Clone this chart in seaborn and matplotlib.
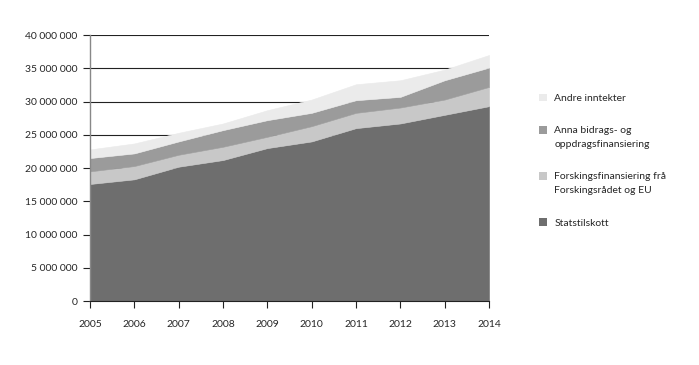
import matplotlib
matplotlib.use("Agg")
import matplotlib.pyplot as plt
import matplotlib.patches as mpatches
from matplotlib.legend_handler import HandlerPatch
import seaborn as sns
import numpy as np
import pandas as pd
from matplotlib.ticker import FuncFormatter

years = [2005, 2006, 2007, 2008, 2009, 2010, 2011, 2012, 2013, 2014]
statstilskott = [17.6, 18.3, 20.2, 21.2, 23.0, 24.0, 26.0, 26.7, 28.0, 29.3]
forsking_cum = [19.5, 20.3, 22.0, 23.2, 24.7, 26.3, 28.3, 29.1, 30.3, 32.2]
anna_cum = [21.5, 22.2, 24.0, 25.7, 27.2, 28.3, 30.2, 30.7, 33.2, 35.1]
andre_cum = [22.8, 23.7, 25.3, 26.7, 28.7, 30.3, 32.6, 33.2, 34.8, 37.0]

labels = ["Statstilskott",
          "Forskingsfinansiering frå\nForskingsrådet og EU",
          "Anna bidrags- og\noppdragsfinansiering",
          "Andre inntekter"]
colors = ["#6e6e6e", "#c8c8c8", "#9b9b9b", "#ebebeb"]

df = pd.DataFrame({
    "year": years,
    "s": np.array(statstilskott) * 1e6,
    "f": (np.array(forsking_cum) - np.array(statstilskott)) * 1e6,
    "a": (np.array(anna_cum) - np.array(forsking_cum)) * 1e6,
    "o": (np.array(andre_cum) - np.array(anna_cum)) * 1e6,
})

sns.set_style("white")
plt.rcParams["font.family"] = ["Lato", "DejaVu Sans"]

FS = 7.5
LS = 1.75
LINE_STEP_PT = 5.4 * 2  # approximate line step in points

fig = plt.figure(figsize=(6.99, 3.65), dpi=100)
ax = fig.add_axes([0.1288, 0.1753, 0.5708, 0.7287])

for v in range(5, 41, 5):
    ax.axhline(v * 1e6, color="#222222", lw=0.8, zorder=0)

polys = ax.stackplot(df["year"], df["s"], df["f"], df["a"], df["o"],
                     colors=colors, zorder=2)
for p, c in zip(polys, colors):
    p.set_edgecolor(c)
    p.set_linewidth(0.4)

ax.set_xlim(2005, 2014)
ax.set_ylim(0, 40e6)
ax.set_xticks(years)
ax.set_yticks(np.arange(0, 40e6 + 1, 5e6))
ax.yaxis.set_major_formatter(FuncFormatter(lambda v, p: f"{int(v):,}".replace(",", " ")))

for s in ["top", "right"]:
    ax.spines[s].set_visible(False)
ax.spines["left"].set_color("#888888")
ax.spines["left"].set_linewidth(1.0)
ax.spines["bottom"].set_color("#222222")
ax.spines["bottom"].set_linewidth(0.8)
ax.spines["left"].set_zorder(3)
ax.spines["bottom"].set_zorder(3)

ax.tick_params(axis="y", direction="out", length=5, width=0.8, color="#222222",
               labelsize=FS, pad=4, left=True)
ax.tick_params(axis="x", direction="out", length=5, width=0.8, color="#222222",
               labelsize=FS, pad=9, bottom=True)


def top_aligned(legend, orig_handle, xdescent, ydescent, width, height, fontsize):
    nlines = orig_handle.get_label().count("\n") + 1
    shift = (nlines - 1) * 0.5 * LINE_STEP_PT
    return mpatches.Rectangle((-xdescent, -ydescent + shift), width, height)


proxies = [mpatches.Patch(facecolor=c, edgecolor="none", label=l)
           for c, l in zip(colors, labels)][::-1]
leg = fig.legend(handles=proxies, loc="upper left",
                 bbox_to_anchor=(0.757, 0.7695), frameon=False, fontsize=FS,
                 handlelength=0.8, handleheight=0.8, handletextpad=0.7,
                 labelspacing=2.2,
                 handler_map={mpatches.Patch: HandlerPatch(patch_func=top_aligned)})
for t in leg.get_texts():
    t.set_linespacing(LS)

fig.savefig("out.png", dpi=100)
